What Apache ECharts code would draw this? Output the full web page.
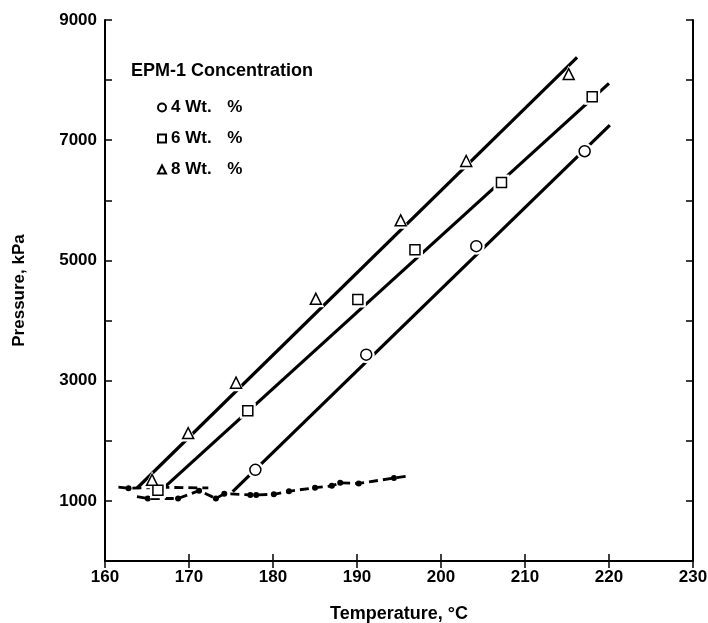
<!DOCTYPE html>
<html>
<head>
<meta charset="utf-8">
<script src="https://cdn.jsdelivr.net/npm/echarts@6/dist/echarts.min.js"></script>
<style>
html,body{margin:0;padding:0;background:#fff;overflow:hidden;}
#chart{width:708px;height:623px;}
</style>
</head>
<body>
<div id="chart"></div>
<script>
// ---- Data ----
const seriesNames = ['4 Wt. %', '6 Wt. %', '8 Wt. %'];

const temps4 = [177.9, 191.1, 204.2, 217.1];
const press4 = [1517, 3433, 5238, 6817];
const temps6 = [166.3, 177.0, 190.1, 196.9, 207.2, 218.0];
const press6 = [1178, 2500, 4350, 5178, 6295, 7722];
const temps8 = [165.6, 169.9, 175.6, 185.1, 195.2, 203.0, 215.2];
const press8 = [1350, 2128, 2967, 4362, 5667, 6655, 8100];

// fitted straight lines (end points)
const fit4T = [175.2, 220.1];
const fit4P = [1155, 7250];
const fit6T = [166.6, 220.0];
const fit6P = [1167, 7945];
const fit8T = [163.8, 216.2];
const fit8P = [1210, 8378];

// dashed vapour-pressure curves at the bottom
const dashUpT = [161.6, 162.8, 167.0, 172.3];
const dashUpP = [1230, 1210, 1225, 1215];
const dashUpDot = [false, true, false, false];
const dashLoT = [163.8, 165.1, 168.7, 171.2, 173.2, 174.2, 177.3, 178.0, 180.1, 181.9, 185.0, 187.0, 188.0, 190.2, 194.4, 196.0];
const dashLoP = [1070, 1040, 1040, 1170, 1040, 1120, 1100, 1100, 1110, 1160, 1220, 1250, 1300, 1290, 1380, 1410];
const dashLoDot = [false, true, true, true, true, true, true, true, true, true, true, true, true, true, true, false];

const xTicks = [160, 170, 180, 190, 200, 210, 220, 230];
const yTickLabels = [1000, 3000, 5000, 7000, 9000];

// ---- Chart ----
const FONT = 'Liberation Sans';
const zip = (a, b) => a.map((v, i) => [v, b[i]]);
const chart = echarts.init(document.getElementById('chart'), null, {renderer: 'canvas'});

const axisLine = {show: true, lineStyle: {color: '#000', width: 2}};
const tickIn = {show: true, inside: true, length: 7, lineStyle: {color: '#000', width: 1.5}};

function fitLine(T, P) {
  return {
    type: 'line', data: zip(T, P), symbol: 'none', silent: true,
    lineStyle: {color: '#000', width: 3.2}, z: 2
  };
}
function dashLine(T, P, dots) {
  return {
    type: 'line', silent: true, z: 2,
    data: T.map((t, i) => dots[i] ? {value: [t, P[i]]} : {value: [t, P[i]], symbol: 'none'}),
    symbol: 'circle', symbolSize: 6,
    itemStyle: {color: '#000'},
    lineStyle: {color: '#000', width: 2.8, type: [9, 5]}
  };
}
function halo(T, P, symbol, size) {
  return {
    type: 'scatter', data: zip(T, P), symbol: symbol, symbolSize: size + 6, z: 4, silent: true,
    itemStyle: {color: '#fff', opacity: 1}
  };
}
function markers(name, T, P, symbol, size) {
  return {
    name: name, type: 'scatter', data: zip(T, P), symbol: symbol, symbolSize: size, z: 5,
    itemStyle: {color: '#fff', borderColor: '#000', borderWidth: 1.5, opacity: 1}
  };
}

chart.setOption({
  animation: false,
  backgroundColor: '#fff',
  textStyle: {fontFamily: FONT},
  title: {
    text: 'EPM-1 Concentration', left: 126, top: 57,
    textStyle: {fontFamily: FONT, fontWeight: 'bold', fontSize: 18, color: '#000'}
  },
  legend: {
    data: seriesNames, orient: 'vertical', left: 152, top: 94,
    itemWidth: 8, itemHeight: 8, itemGap: 14,
    formatter: name => name.replace(' %', ' {p|%}'),
    textStyle: {
      fontFamily: FONT, fontWeight: 'bold', fontSize: 17, color: '#000',
      rich: {p: {fontFamily: FONT, fontWeight: 'bold', fontSize: 17, color: '#000', padding: [0, 0, 0, 11]}}
    },
    inactiveColor: '#000', selectedMode: false
  },
  grid: {left: 105, right: 15, top: 20, bottom: 62, containLabel: false, outerBoundsMode: 'none'},
  xAxis: [{
    type: 'value', min: 160, max: 230, interval: 10,
    name: 'Temperature, °C', nameLocation: 'middle', nameGap: 44,
    nameTextStyle: {fontFamily: FONT, fontWeight: 'bold', fontSize: 18, color: '#000'},
    axisLine: axisLine, axisTick: tickIn, splitLine: {show: false},
    axisLabel: {
      fontFamily: FONT, fontWeight: 'bold', fontSize: 17, color: '#000', margin: 8,
      formatter: v => xTicks.indexOf(v) >= 0 ? String(v) : ''
    }
  }, {
    type: 'value', min: 160, max: 230, interval: 10, position: 'top',
    axisLine: axisLine, axisTick: tickIn, axisLabel: {show: false}, splitLine: {show: false}
  }],
  yAxis: [{
    type: 'value', min: 0, max: 9000, interval: 1000,
    name: 'Pressure, kPa', nameLocation: 'middle', nameGap: 77, nameRotate: 90,
    nameTextStyle: {fontFamily: FONT, fontWeight: 'bold', fontSize: 17, color: '#000'},
    axisLine: axisLine, axisTick: tickIn, splitLine: {show: false},
    axisLabel: {
      fontFamily: FONT, fontWeight: 'bold', fontSize: 17, color: '#000', margin: 8,
      formatter: v => yTickLabels.indexOf(v) >= 0 ? String(v) : ''
    }
  }, {
    type: 'value', min: 0, max: 9000, interval: 1000, position: 'right',
    axisLine: axisLine, axisTick: tickIn, axisLabel: {show: false}, splitLine: {show: false}
  }],
  series: [
    fitLine(fit4T, fit4P),
    fitLine(fit6T, fit6P),
    fitLine(fit8T, fit8P),
    dashLine(dashUpT, dashUpP, dashUpDot),
    dashLine(dashLoT, dashLoP, dashLoDot),
    halo(temps4, press4, 'circle', 11),
    halo(temps6, press6, 'rect', 10),
    halo(temps8, press8, 'triangle', 11),
    markers(seriesNames[0], temps4, press4, 'circle', 11),
    markers(seriesNames[1], temps6, press6, 'rect', 10),
    markers(seriesNames[2], temps8, press8, 'triangle', 11)
  ]
});
</script>
</body>
</html>
